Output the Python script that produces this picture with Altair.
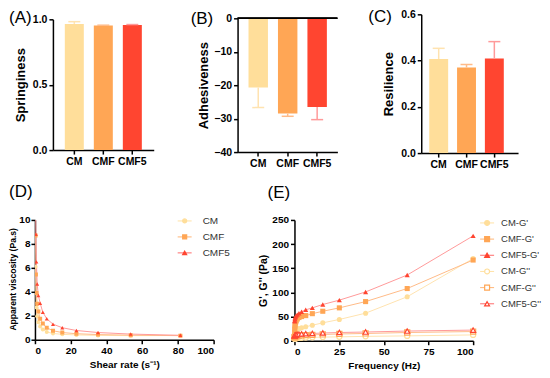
import altair as alt
import pandas as pd

FONT = "Liberation Sans"

samples = ["CM", "CMF", "CMF5"]
bar_colors = ["#FFDE9A", "#FFA655", "#FF4530"]
err_colors = ["#FFE3B0", "#FFBB88", "#FF9A9A"]
line_colors = ["#FFE2A6", "#FFB575", "#FF6A6A"]
shapes = ["circle", "square", "triangle-up"]

# (A)-(C) texture
springiness = [0.965, 0.952, 0.957]
springiness_err_end = [0.982, 0.955, 0.960]
adhesiveness = [-20.7, -28.5, -26.5]
adhesiveness_err_end = [-26.7, -29.3, -30.3]
resilience = [0.407, 0.370, 0.409]
resilience_err_end = [0.453, 0.383, 0.482]

# (D) apparent viscosity
shear_rate = [0.36, 0.54, 0.82, 1.25, 1.9, 2.9, 4.4, 6.6, 10.1, 15.3, 23.2, 35.3, 53.6, 81.4]
visc_CM = [6.1, 3.9, 2.7, 1.95, 1.45, 1.1, 0.85, 0.65, 0.52, 0.45, 0.4, 0.36, 0.34, 0.35]
visc_CMF = [8.7, 5.45, 3.9, 3.0, 2.35, 1.75, 1.35, 1.0, 0.75, 0.6, 0.5, 0.43, 0.38, 0.34]
visc_CMF5 = [11.5, 8.8, 6.5, 4.65, 3.7, 3.05, 2.3, 1.75, 1.3, 1.0, 0.77, 0.6, 0.47, 0.37]

# (E) frequency sweep
frequency = [0.1, 0.158, 0.251, 0.398, 0.631, 1.0, 1.585, 2.512, 3.981, 6.31, 10.0, 15.85, 25.12, 39.81, 63.1, 100.0]
Gp_CM = [10, 12, 14, 17, 19, 21, 23, 25, 27, 29, 32, 37, 44, 57, 91, 170]
Gp_CMF = [18, 24, 29, 33, 37, 41, 45, 48, 50, 52, 56, 61, 68, 81, 108, 167]
Gp_CMF5 = [40, 42, 45, 48, 50, 52, 54, 57, 60, 64, 68, 75, 84, 101, 136, 217]
Gpp_CM = [4, 4.2, 4.5, 4.8, 5, 5.2, 5.5, 5.8, 6, 6.5, 7, 7.5, 8, 9, 10, 12]
Gpp_CMF = [7, 7.5, 8, 8.5, 9, 9.5, 10, 10.5, 11, 11.5, 12, 13, 14, 15, 17, 19]
Gpp_CMF5 = [10, 10.5, 11, 11.5, 12, 12.5, 13, 13.5, 14, 14.5, 15, 16, 17, 18, 20, 22]


def panel_label(text, x, y):
    return alt.Chart(pd.DataFrame({"t": [text]})).mark_text(
        align="left", baseline="top", fontSize=17, font=FONT, color="black"
    ).encode(text="t:N", x=alt.value(x), y=alt.value(y))


def anchor(x, y, align="left", baseline="middle"):
    # invisible layout anchor (fixes the panel's bounding box)
    return alt.Chart(pd.DataFrame({"t": ["."]})).mark_text(
        align=align, baseline=baseline, fontSize=1, opacity=0
    ).encode(text="t:N", x=alt.value(x), y=alt.value(y))


def bar_panel(label, ylabel, means, ends, domain, ticks, fmt, w, h, yrange, inner, outer, align,
              lab_xy, title_pad, xrange=None, axis_offset=0, zero_line=False, anchors=()):
    df = pd.DataFrame({"sample": samples, "mean": means, "end": ends, "zero": [0] * len(samples)})
    sc = dict(domain=samples, paddingInner=inner, paddingOuter=outer, align=align)
    if xrange is not None:
        sc["range"] = xrange
    xs = alt.Scale(**sc)
    x = alt.X("sample:N", sort=samples, title=None, scale=xs,
              axis=alt.Axis(labelAngle=0, labelFontSize=10.5, labelPadding=2))
    ys = alt.Scale(domain=domain, range=yrange, nice=False, zero=False)
    yaxis = alt.Axis(values=ticks, format=fmt, title=ylabel, titleFontSize=13, labelOverlap=False,
                     labelFontSize=10.5, titlePadding=title_pad, offset=axis_offset)
    base = alt.Chart(df)
    bars = base.mark_bar().encode(
        x=x, y=alt.Y("mean:Q", scale=ys, axis=yaxis, title=ylabel), y2="zero:Q",
        color=alt.Color("sample:N", scale=alt.Scale(domain=samples, range=bar_colors), legend=None),
    )
    rules = base.mark_rule(strokeWidth=1.5).encode(
        x=x, y=alt.Y("mean:Q", scale=ys, axis=yaxis, title=ylabel), y2="end:Q",
        stroke=alt.Stroke("sample:N", scale=alt.Scale(domain=samples, range=err_colors), legend=None),
    )
    caps = base.mark_tick(thickness=1.5, size=12, opacity=1).encode(
        x=x, y=alt.Y("end:Q", scale=ys, axis=yaxis, title=ylabel),
        fill=alt.Fill("sample:N", scale=alt.Scale(domain=samples, range=err_colors), legend=None),
    )
    layers = [bars, rules, caps]
    if zero_line:
        layers.append(base.mark_rule(color="black", strokeWidth=1.5).encode(
            x=alt.value(0), x2=alt.value(w), y=alt.Y("zero:Q", scale=ys, axis=yaxis, title=ylabel)))
    layers.append(panel_label(label, lab_xy[0], lab_xy[1]))
    for a in anchors:
        layers.append(anchor(*a))
    return alt.layer(*layers).properties(width=w, height=h)


# top row: A shares its origin with D (x=34 on the page); its plot starts 18 px further right
pA = bar_panel("(A)", "Springiness", springiness, springiness_err_end, [0, 1.0], [0, 0.5, 1.0], ".1f",
               119, 136, [136, 5], 0.345, 0.41, 0.5, (-26, -4), 4.5,
               xrange=[18, 119], axis_offset=-18, anchors=[(126, 60, "right")])
pB = bar_panel("(B)", "Adhesiveness", adhesiveness, adhesiveness_err_end, [-40, 0],
               [-40, -30, -20, -10, 0], ".0f", 100, 138, [138, 4], 0.34, 0.364, 0.51, (-47, -3), 3.5,
               zero_line=True, anchors=[(100, 60, "right")])
pC = bar_panel("(C)", "Resilience", resilience, resilience_err_end, [0, 0.6], [0, 0.2, 0.4, 0.6], ".1f",
               97, 139, [139, 0], 0.32, 0.4, 0.36, (-53, -5), 5.5,
               anchors=[(40, 158, "left", "bottom")])

top = alt.hconcat(pA, pB, pC, spacing=30)


def legend_layers(names, colors, lcolors, shp, filled, x0, y0, step, size, fs, tx):
    out = []
    for i, name in enumerate(names):
        yy = y0 + step * i
        d = pd.DataFrame({"s": [name]})
        out.append(alt.Chart(d).mark_rule(color=lcolors[i], strokeWidth=1).encode(
            x=alt.value(x0), x2=alt.value(x0 + 14), y=alt.value(yy)))
        out.append(alt.Chart(d).mark_point(
            shape=shp[i], size=size, filled=filled[i], fill=colors[i] if filled[i] else "white",
            stroke=colors[i], strokeWidth=1.2, opacity=1).encode(
            x=alt.value(x0 + 7), y=alt.value(yy)))
        out.append(alt.Chart(d).mark_text(align="left", baseline="middle", fontSize=fs, font=FONT,
                                          color="#333333").encode(
            text="s:N", x=alt.value(x0 + tx), y=alt.value(yy)))
    return out


# (D)
dfD = pd.DataFrame({
    "shear": shear_rate * 3,
    "visc": visc_CM + visc_CMF + visc_CMF5,
    "sample": ["CM"] * len(shear_rate) + ["CMF"] * len(shear_rate) + ["CMF5"] * len(shear_rate),
})
xD = alt.X("shear:Q", scale=alt.Scale(domain=[0, 100], nice=False),
           axis=alt.Axis(values=[0, 20, 40, 60, 80, 100], title="Shear rate (s⁻¹)", titleFontSize=10,
                         labelFontSize=10, titlePadding=4, labelOverlap=False))
yD = alt.Y("visc:Q", scale=alt.Scale(domain=[0, 10], nice=False),
           axis=alt.Axis(values=[0, 2, 4, 6, 8, 10], title="Apparent viscosity (Pa.s)", titleFontSize=8.6,
                         labelFontSize=10, titlePadding=1, labelPadding=1, labelOverlap=False,
                         titleY=59))
lineD = alt.Chart(dfD).mark_line(strokeWidth=1, clip=True).encode(
    x=xD, y=yD,
    stroke=alt.Stroke("sample:N", scale=alt.Scale(domain=samples, range=line_colors), legend=None),
)
ptsD = alt.Chart(dfD).mark_point(filled=True, size=16, opacity=1, clip=True).encode(
    x=xD, y=yD,
    color=alt.Color("sample:N", scale=alt.Scale(domain=samples, range=bar_colors), legend=None),
    shape=alt.Shape("sample:N", scale=alt.Scale(domain=samples, range=shapes), legend=None),
)
pD = alt.layer(lineD, ptsD, panel_label("(D)", -26, -36), anchor(200, 60, "right"),
               *legend_layers(samples, bar_colors, line_colors, shapes, [True] * 3, 143, 1, 16, 16, 10, 25)
               ).properties(width=179, height=120)

# (E)
nF = len(frequency)
dfE = pd.DataFrame({
    "freq": frequency * 6,
    "G": Gp_CM + Gp_CMF + Gp_CMF5 + Gpp_CM + Gpp_CMF + Gpp_CMF5,
    "sample": (["CM"] * nF + ["CMF"] * nF + ["CMF5"] * nF) * 2,
    "mod": ["G'"] * (3 * nF) + ["G''"] * (3 * nF),
})
xE = alt.X("freq:Q", scale=alt.Scale(domain=[0, 100], nice=False),
           axis=alt.Axis(values=[0, 25, 50, 75, 100], title="Frequency (Hz)", titleFontSize=10,
                         labelFontSize=10, titlePadding=4, labelOverlap=False))
yE = alt.Y("G:Q", scale=alt.Scale(domain=[0, 250], nice=False),
           axis=alt.Axis(values=[0, 50, 100, 150, 200, 250], title="G', G'' (Pa)", titleFontSize=10.5,
                         labelFontSize=10, titlePadding=3, labelOverlap=False))
lineE = alt.Chart(dfE).mark_line(strokeWidth=1).encode(
    x=xE, y=yE, detail="mod:N",
    stroke=alt.Stroke("sample:N", scale=alt.Scale(domain=samples, range=line_colors), legend=None),
)
ptsE1 = alt.Chart(dfE).transform_filter("datum.mod == \"G'\"").mark_point(
    filled=True, size=26, opacity=1).encode(
    x=xE, y=yE,
    color=alt.Color("sample:N", scale=alt.Scale(domain=samples, range=bar_colors), legend=None),
    shape=alt.Shape("sample:N", scale=alt.Scale(domain=samples, range=shapes), legend=None),
)
ptsE2 = alt.Chart(dfE).transform_filter("datum.mod == \"G''\"").mark_point(
    filled=False, fill="white", size=26, opacity=1, strokeWidth=1.2).encode(
    x=xE, y=yE,
    color=alt.Color("sample:N", scale=alt.Scale(domain=samples, range=bar_colors), legend=None),
    shape=alt.Shape("sample:N", scale=alt.Scale(domain=samples, range=shapes), legend=None),
)
e_names = [s + "-G'" for s in samples] + [s + "-G''" for s in samples]
pE = alt.layer(lineE, ptsE1, ptsE2, panel_label("(E)", -27, -35), anchor(-40, 60, "left"),
               *legend_layers(e_names, bar_colors * 2, line_colors * 2, shapes * 2,
                              [True] * 3 + [False] * 3, 186, 3, 16.2, 24, 9.5, 21)
               ).properties(width=179, height=121)

bottom = alt.hconcat(pD, pE, spacing=20)

chart = alt.vconcat(top, bottom, spacing=11).properties(padding=0).configure_view(
    stroke=None
).configure_axis(
    domainColor="black", domainWidth=1.5, tickColor="black", tickWidth=1.5, tickSize=4,
    labelFont=FONT, labelFontWeight="bold", labelColor="black", labelOverlap=False,
    titleFont=FONT, titleFontWeight="bold", titleColor="black", grid=False,
)

chart.save("out.html", embed_options={"renderer": "svg", "actions": False})
